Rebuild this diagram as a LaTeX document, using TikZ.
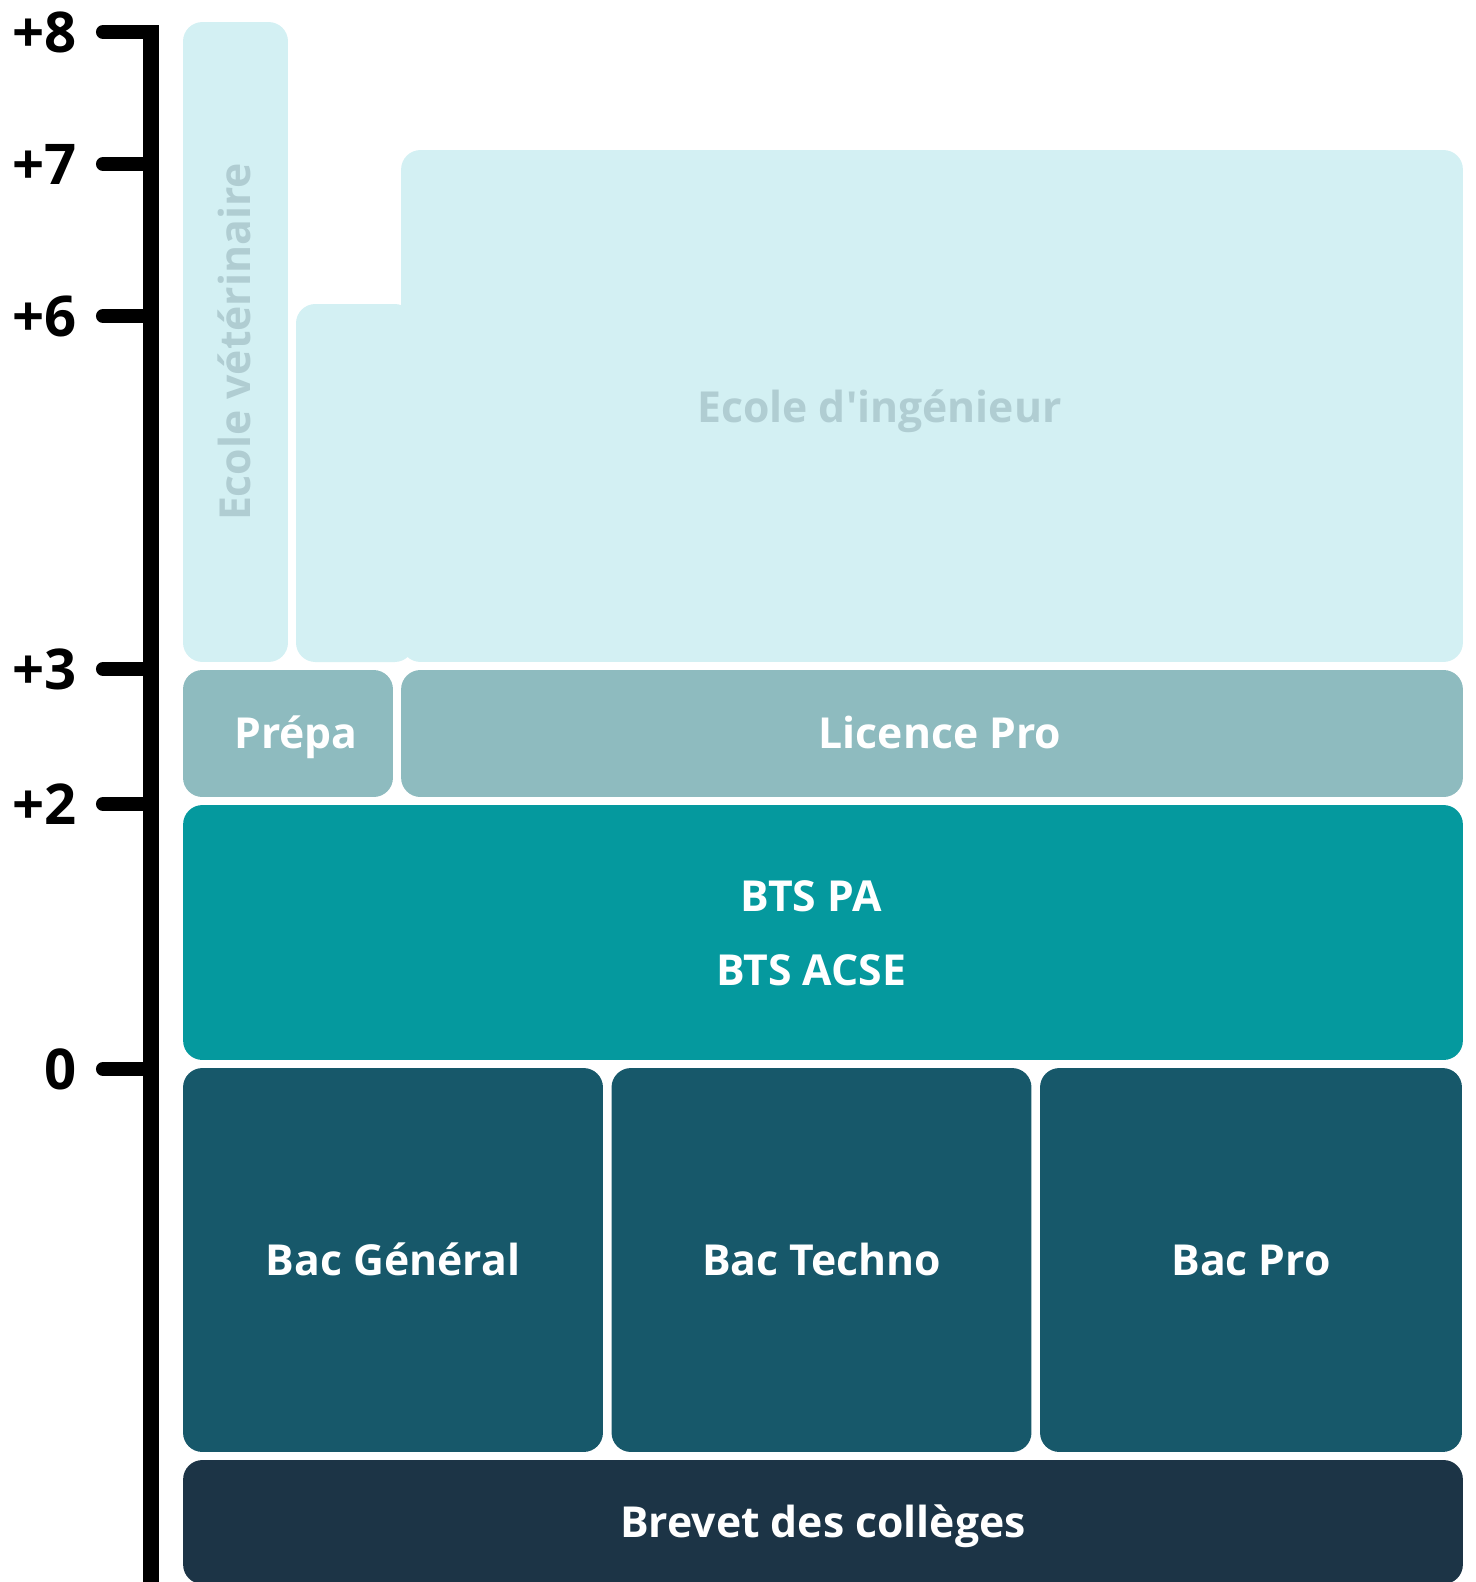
\documentclass[tikz,border=0pt]{standalone}
\usepackage{fontspec}
\setmainfont{Open Sans}
\newfontfamily\levelfont{Open Sans}
\usepackage{xcolor}
\definecolor{pale}{HTML}{D3F0F3}
\definecolor{paletext}{HTML}{B0CDD2}
\definecolor{sage}{HTML}{8EBBBF}
\definecolor{btsteal}{HTML}{05999E}
\definecolor{bacblue}{HTML}{17586A}
\definecolor{brevetblue}{HTML}{1C3446}

\begin{document}
\begin{tikzpicture}[x=0.02cm,y=-0.02cm,
  level/.style={rounded corners=11pt,inner sep=0pt,text=white,
    text height=17.35pt,text depth=0pt,
    font=\levelfont\fontsize{24.3}{34}\selectfont\bfseries},
  faded/.style={level,fill=pale,text=paletext},
  scalelabel/.style={anchor=east,inner sep=0pt,font=\fontsize{32}{36}\selectfont\bfseries}]
\useasboundingbox (0,0) rectangle (1475,1582);

% echelle
\draw [line width=9.5pt] (151,25) -- (151,1600);
\foreach \lab/\y in {+8/32,+7/164,+6/316,+3/669,+2/804,0/1069} {
  \node [scalelabel] (lvl\y) at (77,\y) {\lab};
  \draw [line width=8pt,line cap=round] (103,\y) -- (151,\y);
}

% ecoles
\node [faded,rotate=90,minimum width=12.8cm,minimum height=2.1cm] (veto) at (235.5,342) {Ecole vétérinaire};
\fill [pale,rounded corners=11pt] (296,304) rectangle (414,662);
\node [faded,minimum width=21.24cm,minimum height=10.24cm] (inge) at (932,406) {};
\node [level,text=paletext] (ingelabel) at (879.5,407) {Ecole d'ingénieur};

\node [level,fill=sage,minimum width=4.2cm,minimum height=2.54cm] (prepa) at (288,733.5) {};
\node [level] (prepalabel) at (296,733.5) {Prépa};
\node [level,fill=sage,minimum width=21.24cm,minimum height=2.54cm] (licence) at (932,733.5) {};
\node [level] (licencelabel) at (940,733.5) {Licence Pro};

\node [level,fill=btsteal,minimum width=25.6cm,minimum height=5.1cm] (bts) at (823,932.5) {};
\node [text=white,align=center,font=\levelfont\fontsize{24.3}{34}\selectfont\bfseries] (btslabel) at (811,933) {BTS PA\\[0.28cm]BTS ACSE};

\node [level,fill=bacblue,minimum width=8.4cm,minimum height=7.68cm] (bacgen) at (393,1260) {Bac Général};
\node [level,fill=bacblue,minimum width=8.4cm,minimum height=7.68cm] (bactech) at (821.5,1260) {Bac Techno};
\node [level,fill=bacblue,minimum width=8.44cm,minimum height=7.68cm] (bacpro) at (1251,1260) {Bac Pro};

\node [level,fill=brevetblue,minimum width=25.6cm,minimum height=2.48cm] (brevet) at (823,1522) {Brevet des collèges};
\end{tikzpicture}
\end{document}
